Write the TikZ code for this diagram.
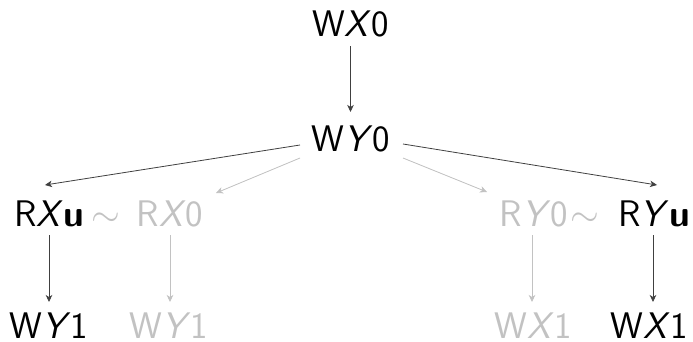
\RequirePackage{fix-cm}
\documentclass[tikz,border=0pt]{standalone}
\usepackage{fontspec}
\usetikzlibrary{arrows.meta,calc}
\definecolor{faint}{gray}{0.76}
\definecolor{edge}{gray}{0.25}
\begin{document}
\begin{tikzpicture}[x=1pt,y=1pt,
  lbl/.style={anchor=base,inner sep=0pt,font=\sffamily\fontsize{37}{44}\selectfont},
  dim/.style={lbl,text=faint},
  tip/.style={-{Stealth[length=7pt,width=6.5pt,inset=2pt]},line width=0.8pt},
  strong/.style={tip,draw=edge},
  weak/.style={tip,draw=faint,fill=faint}]
\useasboundingbox (0,0) rectangle (693,341);
% top chain
\node[lbl] (wx0) at (350.5,304.5) {W\textit{X}0};
\node[lbl] (wy0) at (351,190) {W\textit{Y}0};
% reads, left and right
\node[lbl] (rxu) at (49,114.5) {R\textit{X}\textbf{u}};
\node[dim] (sima) at (106,114.5) {$\sim$};
\node[dim] (rx0) at (170,114.5) {R\textit{X}0};
\node[dim] (ry0) at (534,114.5) {R\textit{Y}0};
\node[dim] (simb) at (585,114.5) {$\sim$};
\node[lbl] (ryu) at (654,114.5) {R\textit{Y}\textbf{u}};
% bottom writes
\node[lbl] (wy1a) at (49,3) {W\textit{Y}1};
\node[dim] (wy1b) at (169,3) {W\textit{Y}1};
\node[dim] (wx1b) at (533,3) {W\textit{X}1};
\node[lbl] (wx1a) at (649,3) {W\textit{X}1};
% connectors
\draw[strong] ([yshift=-9.5pt]wx0.base) -- ([yshift=39pt]wx0.base |- wy0.base);
\draw[strong] ([shift={(-51pt,6pt)}]wy0.base) -- ([shift={(-4pt,41.5pt)}]rxu.base);
\draw[weak] ([shift={(-51pt,-7pt)}]wy0.base) -- ([shift={(46pt,33.5pt)}]rx0.base);
\draw[weak] ([shift={(52pt,-7pt)}]wy0.base) -- ([shift={(-47pt,34.5pt)}]ry0.base);
\draw[strong] ([shift={(52pt,7pt)}]wy0.base) -- ([shift={(3pt,41.5pt)}]ryu.base);
\draw[strong] ([yshift=-8.5pt]rxu.base) -- ($(rxu.base |- wy1a.base)+(0,36pt)$);
\draw[weak] ([yshift=-8.5pt]rx0.base) -- ($(rx0.base |- wy1b.base)+(0,36pt)$);
\draw[weak] ([shift={(-2pt,-8.5pt)}]ry0.base) -- ($(ry0.base |- wx1b.base)+(-2pt,36pt)$);
\draw[strong] ([shift={(-1pt,-8.5pt)}]ryu.base) -- ($(ryu.base |- wx1a.base)+(-1pt,36pt)$);
\end{tikzpicture}
\end{document}
